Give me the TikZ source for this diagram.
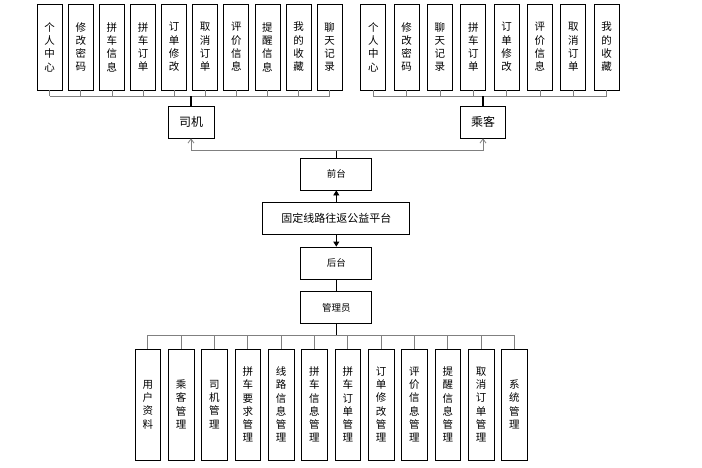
\documentclass[tikz,border=0pt]{standalone}
\usepackage{fontspec}
\newfontfamily\cjk{Noto Sans CJK SC}
\usetikzlibrary{arrows.meta}
\usetikzlibrary{calc}
\XeTeXlinebreaklocale "zh"
\XeTeXlinebreakskip=0pt plus 1pt
\begin{document}
\begin{tikzpicture}[x=1pt,y=-1pt,
	box/.style={draw,thick,inner sep=0pt,font=\cjk\fontsize{10.5}{13.3}\selectfont},
	tall/.style={box,minimum width=25pt,minimum height=86pt,text width=11pt,align=center},
	low/.style={box,minimum width=25.7pt,minimum height=111pt,text width=11pt,align=center},
	wide/.style={box,minimum width=71pt,minimum height=32pt},
	stub/.style={draw=gray,thick},
	trunk/.style={draw,line width=1.6pt}]
	\useasboundingbox (0,0) rectangle (702,467);

	% 司机
	\foreach \t [count=\i from 0] in {个人中心,修改密码,拼车信息,拼车订单,订单修改,取消订单,评价信息,提醒信息,我的收藏,聊天记录}
		\node[tall] (d\i) at (49.7+31.1*\i,47) {\t};
	\node[box,minimum width=46pt,minimum height=32pt,font=\cjk\fontsize{12}{14}\selectfont] (sj) at (191,122) {司机};
	\coordinate (busd) at (0,96);
	\foreach \i in {0,...,9}
		\draw[stub] (d\i.south) -- (d\i.south |- busd);
	\draw[stub] (d0.south |- busd) -- (d9.south |- busd);
	\draw[trunk] (sj.north) -- (sj.north |- busd);

	% 乘客
	\foreach \t [count=\i from 0] in {个人中心,修改密码,聊天记录,拼车订单,订单修改,评价信息,取消订单,我的收藏}
		\node[tall] (p\i) at (373.3+33.33*\i,47) {\t};
	\node[box,minimum width=45pt,minimum height=32pt,font=\cjk\fontsize{12}{14}\selectfont] (ck) at (483,122) {乘客};
	\foreach \i in {0,...,7}
		\draw[stub] (p\i.south) -- (p\i.south |- busd);
	\draw[stub] (p0.south |- busd) -- (p7.south |- busd);
	\draw[trunk] (ck.north) -- (ck.north |- busd);

	% 中间
	\node[wide] (qt) at (336.3,174) {\cjk\fontsize{9.5}{11}\selectfont 前台};
	\node[box,minimum width=147pt,minimum height=31.5pt,font=\cjk\fontsize{11}{13}\selectfont] (pt) at (336.3,218.5) {固定线路往返公益平台};
	\node[wide] (ht) at (336.3,263) {\cjk\fontsize{9.5}{11}\selectfont 后台};
	\node[wide,minimum height=31.5pt] (gly) at (336.3,307.5) {\cjk\fontsize{9.5}{11}\selectfont 管理员};

	\coordinate (fen) at (336.3,150);
	\draw[thick] (qt.north) -- (fen);
	\draw[stub,-{Straight Barb[length=4pt,width=6pt]}] (fen) -| (sj.south);
	\draw[stub,-{Straight Barb[length=4pt,width=6pt]}] (fen) -| (ck.south);
	\draw[thick,-{Triangle[length=5pt,width=6pt]}] (pt) -- (qt);
	\draw[thick,-{Triangle[length=5pt,width=6pt]}] (pt) -- (ht);
	\draw[thick] (ht) -- (gly);

	% 管理员
	\foreach \t [count=\i from 0] in {用户资料,乘客管理,司机管理,拼车要求管理,线路信息管理,拼车信息管理,拼车订单管理,订单修改管理,评价信息管理,提醒信息管理,取消订单管理,系统管理}
		\node[low] (a\i) at (147.8+33.33*\i,404.5) {\t};
	\coordinate (busa) at (0,335);
	\foreach \i in {0,...,11}
		\draw[stub] (a\i.north) -- (a\i.north |- busa);
	\draw[stub] (a0.north |- busa) -- (a11.north |- busa);
	\draw[trunk] (gly.south) -- (gly.south |- busa);
\end{tikzpicture}
\end{document}
